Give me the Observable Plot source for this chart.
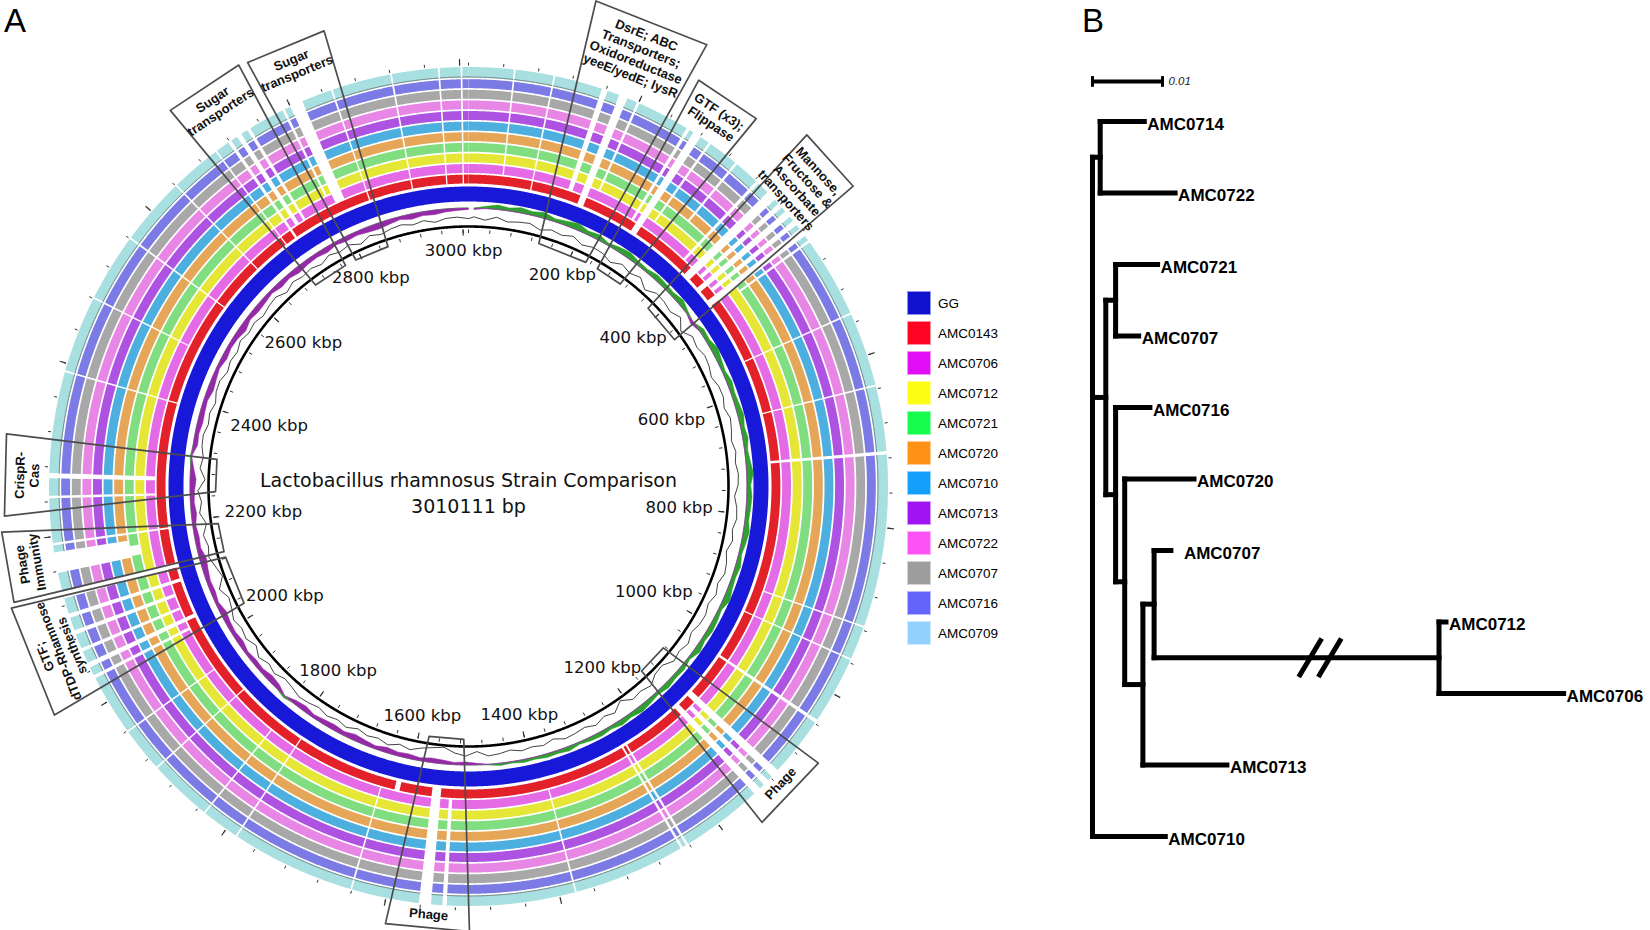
<!DOCTYPE html>
<html>
<head>
<meta charset="utf-8">
<script src="https://cdn.jsdelivr.net/npm/d3@7"></script>
<script src="https://cdn.jsdelivr.net/npm/@observablehq/plot@0.6"></script>
<style>
  html, body { margin: 0; padding: 0; background: #fff; }
  #page { position: relative; width: 1650px; height: 930px; overflow: hidden; font-family: "Liberation Sans", Arial, sans-serif; color: #000; }
  .panelLetter { position: absolute; top: 3px; font-size: 33px; line-height: 1.1; font-family: "Liberation Sans", Arial, sans-serif; }
  #panelA { position: absolute; left: 0; top: 0; }
  #panelB { position: absolute; left: 1000px; top: 0; }
  #legend { position: absolute; left: 907px; top: 291px; }
  .lg { position: relative; height: 30px; }
  .lg .sw { position: absolute; left: 0; top: 0; width: 24px; height: 24px; box-sizing: border-box; border: 1px solid rgba(255,255,255,0.55); }
  .lg .tx { position: absolute; left: 31px; top: 12px; transform: translateY(-50%); font-size: 13.5px; white-space: nowrap; }
  svg { overflow: visible; display: block; }
</style>
</head>
<body>
<div id="page">
  <div class="panelLetter" style="left:4px">A</div>
  <div class="panelLetter" style="left:1082px">B</div>
  <div id="panelA"></div>
  <div id="legend"></div>
  <div id="panelB"></div>
</div>
<script>
// ---------------- DATA ----------------
const strains = ["GG","AMC0143","AMC0706","AMC0712","AMC0721","AMC0720","AMC0710","AMC0713","AMC0722","AMC0707","AMC0716","AMC0709"];
const legendColors = ["#1010cf","#fd0522","#e10df4","#fdfd14","#14fd4c","#fd9214","#149ffd","#a014f4","#fd53f4","#9d9d9d","#6464fd","#92d1fd"];
const ringColors = ["#1818d8","#e3212b","#e46ae6","#e6e636","#80de80","#e5a658","#4cafdf","#ae52e2","#e886e6","#a8a8a8","#7c7ae4","#a8dfe0"];

const genomeLength = 3010111; // bp
const chartTitle = "Lactobacillus rhamnosus Strain Comparison";
const tickLabelsKbp = [200,400,600,800,1000,1200,1400,1600,1800,2000,2200,2400,2600,2800,3000];
const minorTickStepKbp = 40;
const gcWindowKbp = 20;

// GC content deviation per 20 kbp window (estimated)
const gcContent = [
 0.2,-0.3,0.4,-0.2,0.1,0.3,-0.4,0.2,-0.1,0.5,
 -0.3,0.2,0.1,-0.6,0.3,-0.2,0.4,-0.8,0.2,0.1,
 -0.3,0.5,-1.0,0.2,-0.2,0.3,0.1,-0.4,0.2,0.3,
 -0.2,0.4,0.1,-0.3,0.2,-0.1,0.3,0.2,-0.4,0.1,
 0.3,-0.2,0.2,-0.5,0.1,0.4,-0.2,0.3,-0.3,0.2,
 0.1,-0.4,0.3,-0.2,0.2,-0.9,-0.7,0.3,-0.2,0.1,
 -1.1,0.2,-0.3,0.4,-0.2,0.1,0.3,-0.4,0.2,-0.1,
 0.2,-0.3,0.1,0.3,-0.6,0.2,-0.3,-1.2,-0.9,-0.5,
 0.2,-0.3,0.4,-0.2,0.1,-0.4,0.3,-0.2,0.2,-0.3,
 0.1,0.3,-0.2,-0.5,0.2,-0.3,0.4,-0.6,0.2,-0.2,
 0.3,-0.4,-0.8,0.2,-1.2,-0.6,0.1,-0.3,0.2,-0.7,
 0.3,-0.2,0.4,-0.9,0.1,-0.3,0.2,0.3,-0.2,0.1,
 -0.4,0.2,0.3,-0.3,0.1,-0.2,0.4,-0.1,0.2,-0.3,
 0.1,0.3,-0.5,0.2,-0.2,0.1,-0.4,0.3,-0.2,0.2,
 -0.6,0.2,-0.3,0.1,0.3,-0.2,0.2,-0.4,0.1,0.2,-0.1
];
// GC skew per 20 kbp window (estimated)
const gcSkew = [
 -0.2,0.3,0.6,0.4,0.7,0.5,0.8,0.4,0.6,0.9,
 0.5,0.7,0.3,0.6,0.8,0.5,0.4,0.7,0.6,0.5,
 0.8,0.3,-0.4,0.6,0.5,0.9,0.6,0.4,0.7,0.5,
 0.6,0.8,0.5,0.7,0.4,0.6,0.9,0.5,0.7,0.6,
 0.5,0.8,0.6,0.4,0.7,0.5,0.6,0.9,0.4,0.6,
 0.7,0.5,0.8,0.3,0.6,0.5,0.7,0.4,0.6,0.8,
 0.5,0.7,0.4,0.6,0.5,0.3,0.6,0.4,0.5,0.3,
 0.4,0.2,0.3,0.1,-0.2,-0.4,-0.3,-0.5,-0.6,-0.4,
 -0.6,-0.5,-0.7,-0.4,-0.6,-0.8,-0.5,-0.7,-0.6,-0.4,
 -0.7,-0.5,0.3,-0.6,-0.8,-0.5,-0.6,-0.4,-0.7,-0.5,
 -0.6,-0.8,-0.4,-0.6,-0.5,-0.7,-0.9,-0.5,-0.6,-0.4,
 -0.7,-0.5,-0.6,-0.8,-0.4,0.2,-0.6,-0.5,-0.7,-0.6,
 -0.5,-0.8,-0.6,-0.4,-0.7,-0.5,-0.6,-0.9,-0.5,-0.7,
 -0.6,-0.4,-0.7,-0.5,-0.8,-0.6,-0.5,-0.7,-0.4,-0.6,
 -0.5,-0.7,-0.8,-0.6,-0.4,-0.7,-0.5,-0.6,-0.4,-0.3,-0.2
];

// Regions missing from strains: [start kbp, end kbp, first strain index, last strain index]
const gaps = [
 [2975,2977,1,11],[3001,3003,1,11],[52,54,2,11],[98,100,1,11],
 [155,162,2,11],[176,186,1,11],[198,201,3,11],
 [262,266,2,11],[271,281,1,11],[292,295,3,11],[330,333,5,11],
 [362,366,2,11],[380,392,1,11],[398,404,2,11],[410,418,1,11],[424,430,2,11],[436,446,1,11],[452,455,4,11],
 [548,550,1,11],[635,637,1,11],[712,716,1,11],[915,917,2,11],[955,957,1,11],[1035,1039,1,11],
 [1108,1118,1,11],[1124,1131,2,11],[1137,1146,1,11],[1241,1244,1,11],[1248,1251,1,11],[1380,1382,2,11],
 [1530,1535,2,11],[1548,1562,1,11],[1612,1620,1,1],[1640,1642,2,11],
 [1785,1787,1,11],[1830,1832,2,11],[1905,1907,1,11],[1958,1960,2,11],
 [2030,2034,2,11],[2044,2050,1,11],[2064,2068,2,11],[2085,2090,2,11],[2105,2110,1,11],[2128,2136,1,11],
 [2158,2182,5,11],[2160,2174,4,4],[2190,2193,1,11],
 [2244,2247,2,11],[2267,2273,2,11],[2390,2392,1,11],[2480,2482,2,11],[2560,2562,1,11],[2640,2642,1,11],
 [2700,2702,1,11],[2718,2722,1,11],[2730,2736,2,11],[2744,2748,2,11],[2790,2793,3,11],[2800,2815,2,11],
 [2850,2852,1,11],[2920,2922,1,11]
];

// Annotated regions (kbp): inner span on the backbone, outer span at the label end
const annotationLabels = [
 "Sugar\ntransporters",
 "Sugar\ntransporters",
 "DsrE; ABC\nTransporters;\nOxidoreductase\nyeeE/yedE; lysR",
 "GTF (x3);\nFlippase",
 "Mannose,\nFructose &\nAscorbate\ntransporters",
 "Phage",
 "Phage",
 "GTF;\ndTDP-Rhamnose\nsynthesis",
 "Phage\nImmunity",
 "CrispR-\nCas"
];
const annotationInnerKbp = [[2699,2767],[2789,2855],[135,231],[256,308],[378,456],[1084,1144],[1514,1580],[2028,2122],[2133,2187],[2248,2309]];
const annotationOuterKbp = [[2689,2771],[2780,2863],[123,237],[247,318],[367,435],[1073,1161],[1504,1595],[2016,2133],[2138,2211],[2227,2312]];

// Phylogenetic tree
const treeIds     = ["root","n1","t0714","t0722","n2","n3","t0721","t0707a","n4","t0716","n5","t0720","n6","n7","t0707b","n8","t0712","t0706","t0713","t0710"];
const treeParents = [null,"root","n1","n1","root","n2","n3","n3","n2","n4","n4","n5","n5","n6","n7","n7","n8","n8","n6","root"];
const treeBranchLengths = [0,0.0011,0.0063,0.0107,0.0019,0.0014,0.0060,0.0033,0.0014,0.0049,0.0013,0.0099,0.0026,0.0016,0.0024,0.0407,0.0010,0.0178,0.0120,0.0104];
const treeLabels  = ["","","AMC0714","AMC0722","","","AMC0721","AMC0707","","AMC0716","","AMC0720","","","AMC0707","","AMC0712","AMC0706","AMC0713","AMC0710"];
const scaleBarLength = 0.01;
const branchBreaksAt = [0.0311, 0.0339]; // "//" marks on the shortened long branch

// ---------------- LAYOUT ----------------
const L = {
  cx: 468, cy: 486, wA: 900, hA: 930,
  rBackbone: 260, rGC: 268.5, gcAmp: 5.5, rSkew: 278.5, skewAmp: 7.5,
  rGG: [285, 300], ring0: 303, ringStep: 10.6, ringW: 8.9, lastRingW: 10.5,
  rLabelEdge: 245, tickFont: 16.5,
  rBoxIn: 253, rOuterTick: 421,
  boxReach: [480, 478, 502, 467, 488, 446, 445, 473, 469, 465]
};
const G = genomeLength / 1000;
const P = (k, r) => { const a = k / G * 2 * Math.PI; return {x: r * Math.sin(a), y: -r * Math.cos(a)}; };
const arc = (k0, k1, r, step = 1.5) => {
  const n = Math.max(1, Math.ceil((k1 - k0) / step));
  return d3.range(n + 1).map(j => P(k0 + (k1 - k0) * j / n, r));
};
const ringRadii = i => {
  if (i === 0) return L.rGG;
  const r0 = L.ring0 + (i - 1) * L.ringStep;
  return [r0, r0 + (i === strains.length - 1 ? L.lastRingW : L.ringW)];
};
const segmentsFor = i => {
  let segs = [[0, G]];
  for (const [s, e, a, b] of gaps) {
    if (i < a || i > b) continue;
    segs = segs.flatMap(([u, v]) => (e <= u || s >= v) ? [[u, v]]
      : [[u, Math.max(u, s)], [Math.min(v, e), v]].filter(([p, q]) => q - p > 0.01));
  }
  return segs;
};

// ring polygons
const ringMarks = [];
const tealEdges = [];
strains.forEach((s, i) => {
  const [r0, r1] = ringRadii(i);
  const segs = segmentsFor(i);
  const pts = segs.flatMap(([u, v], j) => [...arc(u, v, r1), ...arc(u, v, r0).reverse()].map(p => ({...p, seg: j})));
  ringMarks.push(Plot.line(pts, {x: "x", y: "y", z: "seg", fill: ringColors[i], stroke: "none", curve: "linear-closed"}));
  if (i === strains.length - 1) segs.forEach(([u, v], j) => arc(u, v, r0 + 0.5).forEach(p => tealEdges.push({...p, seg: j})));
});

// GC content & skew
const gcCenter = i => Math.min(G, i * gcWindowKbp + gcWindowKbp / 2);
const gcPts = gcContent.map((v, i) => P(gcCenter(i), L.rGC + v * L.gcAmp));
const lastC = gcCenter(gcSkew.length - 1), firstC = gcCenter(0);
const skewPoly = sign => [
  ...gcSkew.map((v, i) => P(gcCenter(i), L.rSkew + (sign > 0 ? Math.max(v, 0) : Math.min(v, 0)) * L.skewAmp)),
  ...arc(firstC, lastC, L.rSkew).reverse()
];

// ticks
const minorTicks = d3.range(0, G, minorTickStepKbp);
const tickSeg = (ks, r0, r1) => ks.map(k => { const a = P(k, r0), b = P(k, r1); return {x1: a.x, y1: a.y, x2: b.x, y2: b.y}; });

// tick labels: inside the backbone, nearest edge roughly at rLabelEdge
const tickLabelPos = tickLabelsKbp.map(k => {
  const a = k / G * 2 * Math.PI;
  const hw = ((String(k).length) * 0.636 + 2.167) * L.tickFont / 2;
  const hh = 0.58 * L.tickFont;
  const s = Math.sin(a), c = Math.cos(a);
  const r = L.rLabelEdge - (hw * s * s + hh * c * c);
  return {x: r * s, y: -r * c, text: `${k} kbp`};
});

// annotation boxes and labels
const boxPts = annotationLabels.flatMap((t, i) => {
  const [a, b] = annotationInnerKbp[i], [c, d] = annotationOuterKbp[i];
  return [P(a, L.rBoxIn), P(c, L.boxReach[i]), P(d, L.boxReach[i]), P(b, L.rBoxIn)].map(p => ({...p, id: i}));
});
const annText = annotationLabels.map((t, i) => {
  const mid = (annotationOuterKbp[i][0] + annotationOuterKbp[i][1]) / 2;
  const deg = mid / G * 360;
  const nLines = t.split("\n").length;
  const p = P(mid, L.boxReach[i] - 8 - nLines * 7.6);
  const rot = deg < 90 ? deg : deg < 225 ? deg - 180 : deg - 360;
  return {...p, text: t, rot};
});

const circleFont = "DejaVu Sans, Verdana, sans-serif";
const plotA = Plot.plot({
  width: L.wA, height: L.hA, margin: 0,
  x: {domain: [-L.cx, L.wA - L.cx], range: [0, L.wA], axis: null},
  y: {domain: [-L.cy, L.hA - L.cy], range: [0, L.hA], axis: null},
  marks: [
    ...ringMarks,
    Plot.line(tealEdges, {x: "x", y: "y", z: "seg", stroke: "#6f7b7b", strokeWidth: 0.9}),
    Plot.line(skewPoly(1), {x: "x", y: "y", fill: "#2f9f2f", stroke: "#2f9f2f", strokeWidth: 0.5, curve: "linear-closed"}),
    Plot.line(skewPoly(-1), {x: "x", y: "y", fill: "#952aa6", stroke: "#952aa6", strokeWidth: 0.5, curve: "linear-closed"}),
    Plot.line(gcPts, {x: "x", y: "y", stroke: "#111", strokeWidth: 0.8, curve: "linear-closed"}),
    Plot.line(arc(0, G, L.rBackbone), {x: "x", y: "y", stroke: "#000", strokeWidth: 2.6, curve: "linear-closed"}),
    Plot.link(tickSeg(minorTicks, L.rBackbone - 3, L.rBackbone - 6.5), {x1: "x1", y1: "y1", x2: "x2", y2: "y2", stroke: "#333", strokeWidth: 1}),
    Plot.link(tickSeg(tickLabelsKbp, L.rBackbone - 3, L.rBackbone - 9), {x1: "x1", y1: "y1", x2: "x2", y2: "y2", stroke: "#333", strokeWidth: 1.2}),
    Plot.link(tickSeg(minorTicks, L.rOuterTick, L.rOuterTick + 3), {x1: "x1", y1: "y1", x2: "x2", y2: "y2", stroke: "#333", strokeWidth: 1}),
    Plot.link(tickSeg(tickLabelsKbp, L.rOuterTick, L.rOuterTick + 6.5), {x1: "x1", y1: "y1", x2: "x2", y2: "y2", stroke: "#333", strokeWidth: 1.2}),
    Plot.text(tickLabelPos, {x: "x", y: "y", text: "text", fontSize: L.tickFont, fontFamily: circleFont, fill: "#111"}),
    Plot.text([chartTitle], {x: 0, y: -6, text: d => d, fontSize: 19, fontFamily: circleFont, fill: "#111"}),
    Plot.text([genomeLength], {x: 0, y: 20, text: d => `${d} bp`, fontSize: 19, fontFamily: circleFont, fill: "#111"}),
    Plot.line(boxPts, {x: "x", y: "y", z: "id", stroke: "#4d4d4d", strokeWidth: 1.7, fill: "none", curve: "linear-closed"}),
    Plot.text(annText, {x: "x", y: "y", text: "text", rotate: "rot", fontSize: 13, fontWeight: "bold",
      lineHeight: 1.12, fontFamily: "Liberation Sans, Arial, sans-serif", fill: "#111"})
  ]
});
document.getElementById("panelA").appendChild(plotA);

// legend
const legend = document.getElementById("legend");
strains.forEach((s, i) => {
  const row = document.createElement("div");
  row.className = "lg";
  row.innerHTML = `<div class="sw" style="background:${legendColors[i]}"></div><div class="tx">${s}</div>`;
  legend.appendChild(row);
});

// ---------------- TREE ----------------
const tx = {}, ty = {};
treeIds.forEach((id, i) => { tx[id] = treeParents[i] == null ? 0 : tx[treeParents[i]] + treeBranchLengths[i]; });
const kids = id => treeIds.filter((_, j) => treeParents[j] === id);
let tipCount = 0;
(function assign(id) {
  const k = kids(id);
  if (!k.length) { ty[id] = tipCount++; return; }
  k.forEach(assign);
  ty[id] = (ty[k[0]] + ty[k[k.length - 1]]) / 2;
})("root");
const nonRoot = treeIds.filter((_, i) => treeParents[i] != null);
const parentOf = id => treeParents[treeIds.indexOf(id)];
const internal = treeIds.filter(id => kids(id).length);
const tips = treeIds.filter(id => !kids(id).length);
const labelOf = id => treeLabels[treeIds.indexOf(id)];
const barY = -0.56;
const labelStyle = {textAnchor: "start", fontSize: 17, fontWeight: "bold", fontFamily: "Liberation Sans, Arial, sans-serif", fill: "#000", dy: 3};

const plotB = Plot.plot({
  width: 650, height: 930, margin: 0,
  x: {domain: [0, 0.01], range: [92, 162], axis: null},
  y: {domain: [0, 10], range: [121, 836], axis: null},
  marks: [
    Plot.link(nonRoot, {x1: d => tx[parentOf(d)], x2: d => tx[d], y1: d => ty[d], y2: d => ty[d],
      stroke: "#000", strokeWidth: 5, strokeLinecap: "square"}),
    Plot.link(internal, {x1: d => tx[d], x2: d => tx[d], y1: d => d3.min(kids(d), c => ty[c]), y2: d => d3.max(kids(d), c => ty[c]),
      stroke: "#000", strokeWidth: 5, strokeLinecap: "square"}),
    Plot.link(branchBreaksAt, {x1: b => b - 0.00164, x2: b => b + 0.00164, y1: ty["n8"] + 0.27, y2: ty["n8"] - 0.27,
      stroke: "#000", strokeWidth: 5}),
    Plot.text(tips.filter(d => d !== "t0707b"), {x: d => tx[d], y: d => ty[d], text: labelOf, dx: 3, ...labelStyle}),
    Plot.text(["t0707b"], {x: d => tx[d], y: d => ty[d], text: labelOf, dx: 13, ...labelStyle}),
    Plot.link([scaleBarLength], {x1: 0, x2: d => d, y1: barY, y2: barY, stroke: "#000", strokeWidth: 4}),
    Plot.link([0, scaleBarLength], {x1: d => d, x2: d => d, y1: barY - 0.075, y2: barY + 0.075, stroke: "#000", strokeWidth: 3}),
    Plot.text([scaleBarLength], {x: d => d, y: barY, text: d => `${d}`, dx: 6, textAnchor: "start",
      fontSize: 11.5, fontStyle: "italic", fontFamily: "Liberation Sans, Arial, sans-serif", fill: "#222"})
  ]
});
document.getElementById("panelB").appendChild(plotB);
</script>
</body>
</html>
